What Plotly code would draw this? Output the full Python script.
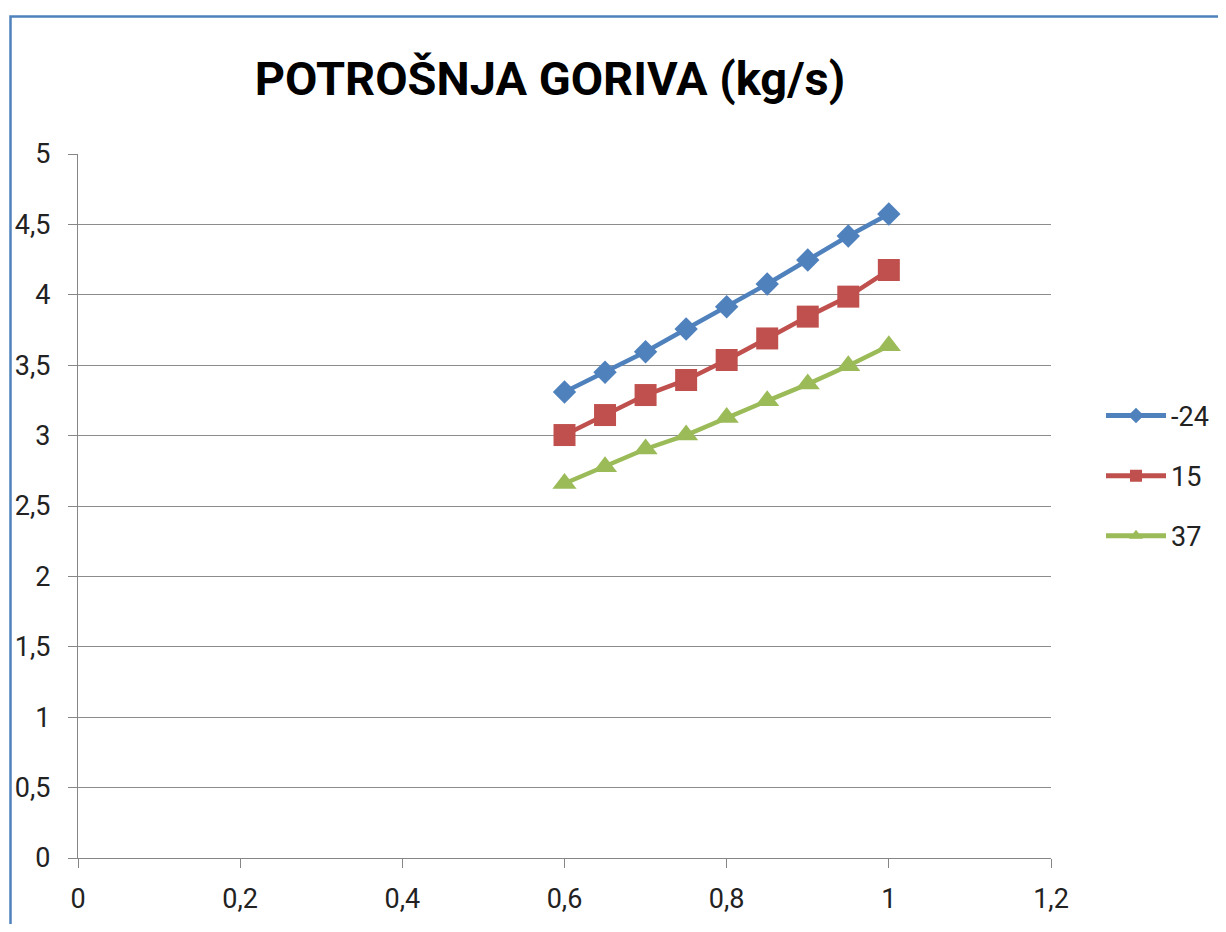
import plotly.graph_objects as go

x_vals = [0.6, 0.65, 0.7, 0.75, 0.8, 0.85, 0.9, 0.95, 1.0]
series_names = ["-24", "15", "37"]
s_m24 = [3.31, 3.45, 3.595, 3.757, 3.915, 4.077, 4.247, 4.418, 4.574]
s_15 = [3.004, 3.146, 3.288, 3.395, 3.537, 3.69, 3.845, 3.987, 4.176]
s_37 = [2.66, 2.779, 2.905, 3.004, 3.129, 3.247, 3.366, 3.496, 3.638]

colors = ["#4F81BD", "#C0504D", "#9BBB59"]
symbols = ["diamond", "square", "triangle-up"]
sizes = [18, 22, 21]

FONT = "Roboto"

fig = go.Figure()
for i, (name, ys) in enumerate(zip(series_names, [s_m24, s_15, s_37])):
    fig.add_trace(go.Scatter(
        x=x_vals, y=ys, name=name, mode="lines+markers",
        legendgroup=name,
        line=dict(color=colors[i], width=4.5),
        marker=dict(symbol=symbols[i], size=sizes[i], color=colors[i]),
    ))

# page body has an 8px margin; figure coords = page coords - 8
W, H = 1210, 916
L, T = 70, 146
R = W - 1043
B = H - 850
pw, ph = W - L - R, H - T - B

fig.update_layout(
    width=W, height=H,
    margin=dict(l=L, r=R, t=T, b=B, pad=0, autoexpand=False),
    paper_bgcolor="white", plot_bgcolor="white",
    separators=", ",
    font=dict(family=FONT, size=27, color="#222222"),
    title=dict(text="<b>POTROŠNJA GORIVA (kg/s)</b>", x=542 / W, xanchor="center",
               y=1 - 71 / H, yanchor="middle", automargin=False,
               font=dict(family=FONT, size=47, color="#000000")),
    legend=dict(x=(1093 - L) / pw, xanchor="left", y=(850 - 468) / ph, yanchor="middle",
                font=dict(family=FONT, size=27, color="#222222"), tracegroupgap=22,
                bgcolor="rgba(0,0,0,0)", itemwidth=60, itemsizing="constant"),
    showlegend=True,
)
fig.update_xaxes(range=[0, 1.2], dtick=0.2, tick0=0, showgrid=False, zeroline=False,
                 automargin=False,
                 showline=True, linecolor="#868686", linewidth=1.3,
                 ticks="outside", ticklen=9, tickcolor="#868686", tickwidth=1.3,
                 ticklabelstandoff=7, tickfont=dict(family=FONT, size=27, color="#222222"))
fig.update_yaxes(range=[0, 5], dtick=0.5, tick0=0, showgrid=True, gridcolor="#8C8C8C", gridwidth=1.2,
                 zeroline=False, automargin=False,
                 showline=True, linecolor="#868686", linewidth=1.3,
                 ticks="outside", ticklen=9, tickcolor="#868686", tickwidth=1.3,
                 ticklabelstandoff=12, tickfont=dict(family=FONT, size=27, color="#222222"))

# chart frame (right and bottom edges fall outside the view)
fig.add_shape(type="rect", xref="paper", yref="paper",
              x0=(2.5 - L) / pw, x1=(1300 - L) / pw,
              y0=(850 - 1000) / ph, y1=(850 - 8.5) / ph,
              line=dict(color="#4F81BD", width=2.5), fillcolor="rgba(0,0,0,0)", layer="below")

fig.write_html("out.html")
